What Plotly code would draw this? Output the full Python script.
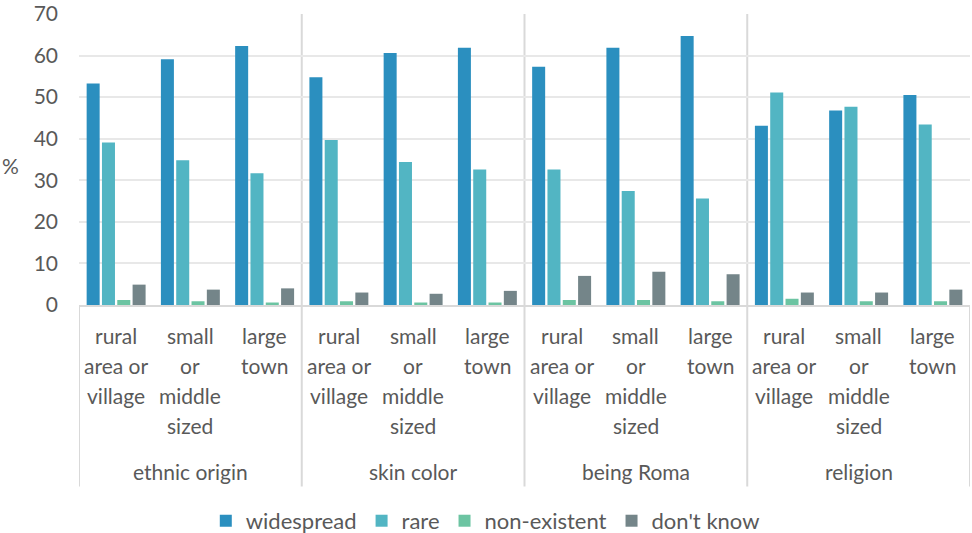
import plotly.graph_objects as go

groups = ["ethnic origin", "skin color", "being Roma", "religion"]
settlements = ["rural<br>area or<br>village", "small<br>or<br>middle<br>sized", "large<br>town"]
series_names = ["widespread", "rare", "non-existent", "don't know"]
colors = ["#2b8fbf", "#52b5c3", "#6cc4a2", "#748589"]

widespread = [53.3, 59.1, 62.3, 54.8, 60.6, 61.9, 57.3, 61.9, 64.7, 43.1, 46.8, 50.5]
rare = [39.1, 34.8, 31.7, 39.7, 34.4, 32.6, 32.6, 27.4, 25.6, 51.1, 47.7, 43.4]
non_existent = [1.2, 0.9, 0.6, 0.9, 0.6, 0.6, 1.2, 1.2, 0.9, 1.5, 0.9, 0.9]
dont_know = [4.9, 3.7, 4.0, 3.0, 2.7, 3.4, 7.0, 8.0, 7.4, 3.0, 3.0, 3.7]
series_values = [widespread, rare, non_existent, dont_know]

y_ticks = [0, 10, 20, 30, 40, 50, 60, 70]

FONT = "Lato"
TXT = "#595959"
FS = 21

n_cat = len(groups) * len(settlements)
xs = list(range(n_cat))

fig = go.Figure()
for name, vals, col in zip(series_names, series_values, colors):
    fig.add_trace(go.Bar(x=xs, y=vals, name=name, marker=dict(color=col, line=dict(width=0))))

annotations = []
for gi, g in enumerate(groups):
    for si, s in enumerate(settlements):
        xi = gi * len(settlements) + si
        for li, line in enumerate(s.split("<br>")):
            annotations.append(dict(x=xi, y=0, xref="x", yref="paper", text=line,
                                    showarrow=False, yanchor="middle", xanchor="center",
                                    yshift=-30.2 - 30 * li,
                                    font=dict(family=FONT, size=FS, color=TXT)))
    annotations.append(dict(x=gi * len(settlements) + (len(settlements) - 1) / 2, y=0,
                            xref="x", yref="paper", text=g, showarrow=False,
                            yanchor="middle", xanchor="center", yshift=-166.2,
                            font=dict(family=FONT, size=FS, color=TXT)))
annotations.append(dict(xref="x domain", yref="y", x=-0.077, y=33.6, text="%", showarrow=False,
                        xanchor="center", yanchor="middle",
                        font=dict(family=FONT, size=FS, color=TXT)))

shapes = []
for k in range(len(groups) + 1):
    xb = k * len(settlements) - 0.5
    top = 1 if 0 < k < len(groups) else 0
    shapes.append(dict(type="line", xref="x", yref="paper", x0=xb, x1=xb, y0=-0.624, y1=top,
                       line=dict(color="#d9d9d9", width=2), layer="below"))

fig.update_layout(
    width=972, height=533,
    margin=dict(l=79, r=2, t=14, b=228, autoexpand=False),
    paper_bgcolor="white", plot_bgcolor="white",
    barmode="group", bargap=0.175, bargroupgap=0.15,
    font=dict(family=FONT, size=FS, color=TXT),
    xaxis=dict(range=[-0.5, n_cat - 0.5], showticklabels=False, showgrid=False,
               zeroline=False, showline=True, linecolor="#d9d9d9", linewidth=2, ticks=""),
    yaxis=dict(range=[0, 70], tickvals=y_ticks, showgrid=True, gridcolor="#e8e8e8", gridwidth=2,
               zeroline=False, showline=False, ticklabelstandoff=20,
               tickfont=dict(family=FONT, size=FS, color=TXT)),
    legend=dict(orientation="h", x=0.456, xanchor="center", y=-0.742, yanchor="middle",
                font=dict(family=FONT, size=22, color=TXT), itemclick=False),
    annotations=annotations,
    shapes=shapes,
)

fig.write_html("out.html")
